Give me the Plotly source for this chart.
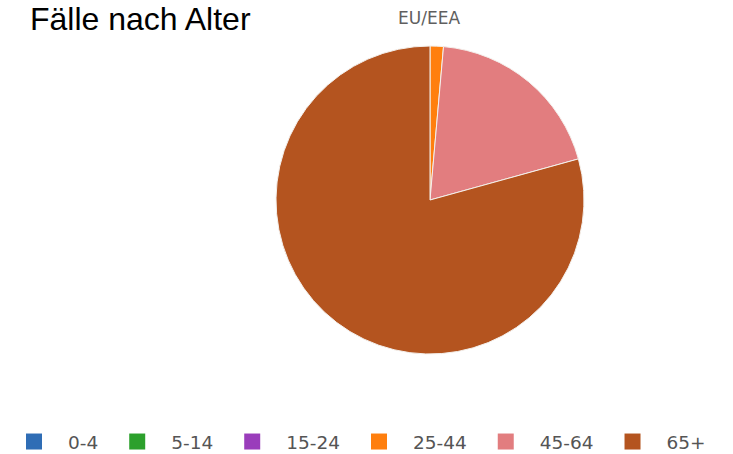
import plotly.graph_objects as go

# Age groups and share of cases (%)
age_groups = ["0-4", "5-14", "15-24", "25-44", "45-64", "65+"]
case_share = [0.0, 0.0, 0.0, 1.4, 19.3, 79.3]
slice_colors = ["#2f6db5", "#2ca02c", "#9a3dbb", "#ff7f0e", "#e27d7f", "#b4541f"]

W, H = 733, 454

fig = go.Figure()

fig.add_trace(
    go.Pie(
        labels=age_groups,
        values=case_share,
        sort=False,
        direction="clockwise",
        rotation=0,
        textinfo="none",
        hoverinfo="label+percent",
        showlegend=False,
        marker=dict(colors=slice_colors, line=dict(color="#f4f0ec", width=1)),
        domain=dict(x=[276 / W, 584 / W], y=[1 - 354 / H, 1 - 46 / H]),
    )
)

# Legend entries: one square swatch per age group
for name, color in zip(age_groups, slice_colors):
    fig.add_trace(
        go.Scatter(
            x=[None], y=[None],
            mode="markers",
            name=name,
            marker=dict(symbol="square", size=16, color=color),
            hoverinfo="skip",
        )
    )

fig.update_layout(
    width=W,
    height=H,
    margin=dict(l=0, r=0, t=0, b=0, autoexpand=False),
    paper_bgcolor="white",
    plot_bgcolor="white",
    xaxis=dict(visible=False),
    yaxis=dict(visible=False),
    showlegend=True,
    legend=dict(
        orientation="h",
        xref="container",
        yref="container",
        x=0,
        xanchor="left",
        y=1 - 442 / H,
        yanchor="middle",
        font=dict(family="DejaVu Sans", size=18.5, color="#555555"),
        itemwidth=58,
        itemclick=False,
        bgcolor="rgba(0,0,0,0)",
    ),
    annotations=[
        dict(
            text="Fälle nach Alter",
            x=28 / W, y=1 + 1 / H,
            xref="paper", yref="paper",
            xanchor="left", yanchor="top",
            showarrow=False,
            font=dict(family="Liberation Sans", size=32, color="#000000"),
        ),
        dict(
            text="EU/EEA",
            x=428.5 / W, y=1 - 18 / H,
            xref="paper", yref="paper",
            xanchor="center", yanchor="middle",
            showarrow=False,
            font=dict(family="DejaVu Sans", size=17, color="#5f5f5f"),
        ),
    ],
)

fig.write_html("out.html")
